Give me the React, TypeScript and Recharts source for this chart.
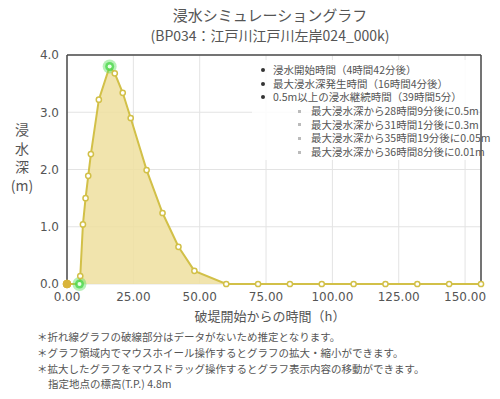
import React from 'react';
import { ComposedChart, Area, XAxis, YAxis, CartesianGrid, ReferenceLine } from 'recharts';

const times = [0, 4.7, 5, 6, 7, 8, 9, 12, 16.07, 18, 21, 24, 30, 36, 42, 48, 60, 72, 84, 96, 108, 120, 132, 144, 156];
const depths = [0, 0, 0.14, 1.04, 1.5, 1.89, 2.27, 3.22, 3.8, 3.68, 3.34, 2.9, 1.99, 1.24, 0.65, 0.23, 0, 0, 0, 0, 0, 0, 0, 0, 0];
const highlightIdx = [1, 8];
const estimatedIdx = [0];
const xTicks = [0, 25, 50, 75, 100, 125, 150];
const yTicks = [0, 1, 2, 3, 4];

const titleText = '浸水シミュレーショングラフ';
const subtitleText = '(BP034：江戸川江戸川左岸024_000k)';
const yLabelChars = ['浸', '水', '深', '(m)'];
const xLabelText = '破堤開始からの時間（h）';
const legendMain = ['浸水開始時間（4時間42分後）', '最大浸水深発生時間（16時間4分後）', '0.5m以上の浸水継続時間（39時間5分）'];
const legendSub = ['最大浸水深から28時間9分後に0.5m', '最大浸水深から31時間1分後に0.3m', '最大浸水深から35時間19分後に0.05m', '最大浸水深から36時間8分後に0.01m'];
const notes = ['＊折れ線グラフの破線部分はデータがないため推定となります。', '＊グラフ領域内でマウスホイール操作するとグラフの拡大・縮小ができます。', '＊拡大したグラフをマウスドラッグ操作するとグラフ表示内容の移動ができます。'];
const elevationNote = '指定地点の標高(T.P.) 4.8m';

const data = times.map((t, i) => ({ t, d: depths[i] }));

const JP = '"Noto Sans CJK JP", "Noto Sans", sans-serif';
const NUM = '"DejaVu Sans", sans-serif';
const LINE = '#d2c048';
const TEXT = '#555';

const renderDot = (props: any) => {
  const { cx, cy, index } = props;
  if (cx == null || cy == null) return <g key={`d${index}`} />;
  if (highlightIdx.includes(index)) {
    return (
      <g key={`d${index}`}>
        <circle cx={cx} cy={cy} r={7} fill="#5ee05e" opacity={0.45} />
        <circle cx={cx} cy={cy} r={4.5} fill="#4fd84f" opacity={0.8} />
        <circle cx={cx} cy={cy} r={2} fill="#e8ffe8" />
      </g>
    );
  }
  if (estimatedIdx.includes(index)) {
    return <circle key={`d${index}`} cx={cx} cy={cy} r={4} fill="#d9b43a" stroke="#d9b43a" />;
  }
  return <circle key={`d${index}`} cx={cx} cy={cy} r={2.6} fill="#fff" stroke={LINE} strokeWidth={1.5} />;
};

const abs = (x: number, y: number, extra: React.CSSProperties = {}): React.CSSProperties => ({
  position: 'absolute',
  left: x,
  top: y,
  transform: 'translateY(-50%)',
  whiteSpace: 'nowrap',
  lineHeight: 1,
  ...extra,
});

export default function App() {
  return (
    <div style={{ position: 'absolute', left: 0, top: 0, width: 500, height: 399, background: '#fff', fontFamily: JP, color: TEXT, overflow: 'hidden' }}>
      <ComposedChart width={500} height={399} data={data} margin={{ top: 55, right: 19, bottom: 95, left: 0 }}>
        <CartesianGrid stroke="#e3e3e3" strokeWidth={1} />
        <XAxis
          type="number"
          dataKey="t"
          domain={[0, 156]}
          ticks={xTicks}
          interval={0}
          height={20}
          axisLine={false}
          tickLine={false}
          tickFormatter={(v: number) => v.toFixed(2)}
          tick={{ fontSize: 12, fill: TEXT, fontFamily: NUM }}
        />
        <YAxis
          type="number"
          domain={[0, 4]}
          ticks={yTicks}
          interval={0}
          width={67}
          axisLine={false}
          tickLine={false}
          tickFormatter={(v: number) => v.toFixed(1)}
          tick={{ fontSize: 12, fill: TEXT, fontFamily: NUM }}
        />
        <ReferenceLine x={0} stroke="#4a4a4a" strokeWidth={1.5} ifOverflow="visible" />
        <ReferenceLine x={156} stroke="#4a4a4a" strokeWidth={1.5} ifOverflow="visible" />
        <ReferenceLine y={4} stroke="#4a4a4a" strokeWidth={1.5} ifOverflow="visible" />
        <Area
          type="linear"
          dataKey="d"
          stroke={LINE}
          strokeWidth={2}
          fill="#efdf9f"
          fillOpacity={0.85}
          dot={renderDot}
          activeDot={false}
          isAnimationActive={false}
        />
      </ComposedChart>

      <div style={abs(0, 14, { width: 540, textAlign: 'center', fontSize: 15 })}>{titleText}</div>
      <div style={abs(0, 35, { width: 540, textAlign: 'center', fontSize: 14 })}>{subtitleText}</div>

      {yLabelChars.map((c, i) => (
        <div key={c} style={abs(0, 129 + i * 18.5, { width: 44, textAlign: 'center', fontSize: 14 })}>{c}</div>
      ))}

      <div style={abs(0, 315, { width: 540, textAlign: 'center', fontSize: 13 })}>{xLabelText}</div>

      <div style={{ position: 'absolute', left: 252, top: 60, width: 226, height: 100, background: 'rgba(255,255,255,0.85)' }} />
      {legendMain.map((s, i) => (
        <React.Fragment key={s}>
          <div style={{ position: 'absolute', left: 261, top: 70 + i * 13.7 - 2, width: 4, height: 4, borderRadius: 2, background: '#333' }} />
          <div style={abs(273, 70 + i * 13.7, { fontSize: 10.5 })}>{s}</div>
        </React.Fragment>
      ))}
      {legendSub.map((s, i) => (
        <React.Fragment key={s}>
          <div style={{ position: 'absolute', left: 298, top: 111 + i * 13.7 - 1.5, width: 3, height: 3, background: '#bbb' }} />
          <div style={abs(311, 111 + i * 13.7, { fontSize: 10.5 })}>{s}</div>
        </React.Fragment>
      ))}

      {notes.map((s, i) => (
        <div key={s} style={abs(37, 337 + i * 16, { fontSize: 10.5 })}>{s}</div>
      ))}
      <div style={abs(48, 384, { fontSize: 10.5 })}>{elevationNote}</div>
    </div>
  );
}
